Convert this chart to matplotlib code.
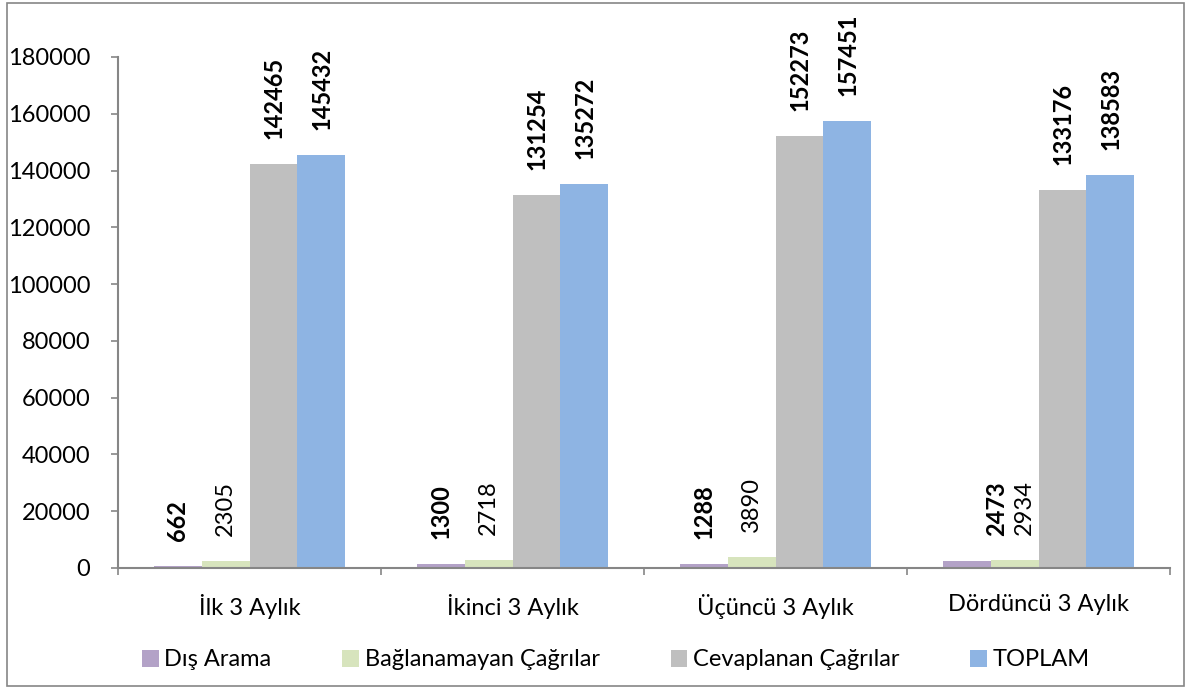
import numpy as np
import matplotlib
matplotlib.use("Agg")
from matplotlib import pyplot as plt
from matplotlib.patches import Rectangle

plt.rcParams['font.family'] = ['Lato', 'DejaVu Sans']

# data
quarters = ['İlk 3 Aylık', 'İkinci 3 Aylık', 'Üçüncü 3 Aylık', 'Dördüncü 3 Aylık']
series_names = ['Dış Arama', 'Bağlanamayan Çağrılar', 'Cevaplanan Çağrılar', 'TOPLAM']
dis_arama = [662, 1300, 1288, 2473]
baglanamayan = [2305, 2718, 3890, 2934]
cevaplanan = [142465, 131254, 152273, 133176]
toplam = [145432, 135272, 157451, 138583]
yticks = [0, 20000, 40000, 60000, 80000, 100000, 120000, 140000, 160000, 180000]

# style
colors = ['#B3A2C7', '#D7E4BD', '#BFBFBF', '#8EB4E3']
bold = [True, False, True, True]
axis_col = '#868686'
# a few labels were nudged sideways in the original (points)
label_dx = {(3, 0): 22, (3, 1): 7}

fig = plt.figure(figsize=(11.86, 6.89), dpi=100)
ax = fig.add_axes([118/1186, 1-568/689, (1170-118)/1186, (568-57)/689])

x = np.arange(len(quarters))
w = 0.1825
all_series = [dis_arama, baglanamayan, cevaplanan, toplam]
for i, vals in enumerate(all_series):
	pos = x + (i - 1.5)*w
	ax.bar(pos, vals, width=w, color=colors[i], label=series_names[i], zorder=2)
	for j, v in enumerate(vals):
		ax.annotate(str(v), xy=(pos[j], v), xytext=(label_dx.get((j, i), 0), 18),
			textcoords='offset points', rotation=90, ha='center', va='bottom',
			fontsize=17, fontweight='bold' if bold[i] else 'normal', color='black')

ax.set_xlim(-0.5, len(quarters)-0.5)
ax.set_ylim(0, 180000)
ax.set_yticks(yticks)
ax.set_yticklabels([str(t) for t in yticks])
ax.set_xticks(x)
ax.set_xticklabels(quarters)
ax.set_xticks(np.arange(len(quarters)+1) - 0.5, minor=True)

for s in ['top', 'right']:
	ax.spines[s].set_visible(False)
for s in ['left', 'bottom']:
	ax.spines[s].set_color(axis_col)
	ax.spines[s].set_linewidth(1.5)

ax.tick_params(axis='y', length=5, width=1.2, color=axis_col, pad=15, labelsize=17)
ax.tick_params(axis='x', which='major', length=0, pad=19, labelsize=17)
ax.tick_params(axis='x', which='minor', length=5, width=1.2, color=axis_col)

fig.legend(loc='center', bbox_to_anchor=(616/1186, 1-660/689), ncol=4, frameon=False,
	fontsize=17, handlelength=0.7, handleheight=0.7, handletextpad=0.25,
	columnspacing=3.0)

fig.patches.append(Rectangle((7/1186, 3/689), 1177/1186, 683/689, transform=fig.transFigure,
	fill=False, edgecolor=axis_col, linewidth=1.2))

fig.savefig('out.png', dpi=100)
